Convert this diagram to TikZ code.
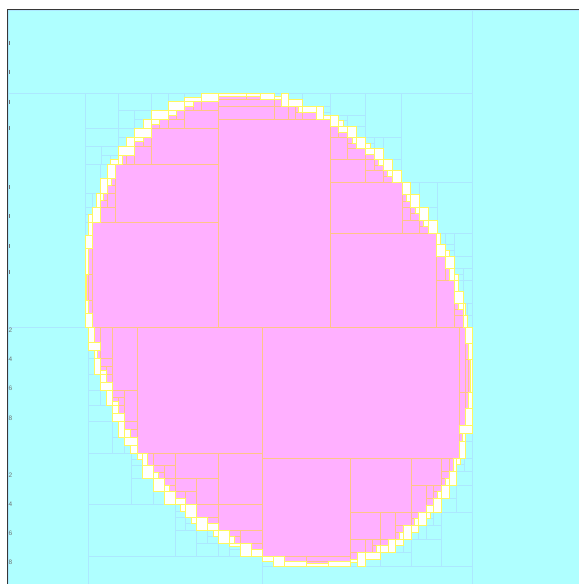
\documentclass[tikz,border=0pt]{standalone}
\usepackage{fontspec}
\setsansfont{Liberation Sans}
\definecolor{cyanfill}{RGB}{175,255,255}
\definecolor{cyanline}{RGB}{172,232,255}
\definecolor{pinkfill}{RGB}{255,176,255}
\definecolor{orangeline}{RGB}{255,196,135}
\definecolor{yellowline}{RGB}{255,248,95}
\definecolor{framecol}{RGB}{55,55,55}
\definecolor{tickcol}{RGB}{110,110,110}
\tikzset{
  cellout/.style={fill=cyanfill,draw=cyanline,line width=0.8bp},
  cellin/.style={fill=pinkfill,draw=orangeline,line width=0.8bp},
  cellbd/.style={fill=white,draw=yellowline,line width=0.8bp},
  framestyle/.style={draw=framecol,line width=1.6bp},
  ticklab/.style={font=\sffamily\fontsize{6.5}{6.5}\selectfont,text=tickcol,inner sep=0pt,anchor=west},
  tickmark/.style={draw=tickcol,line width=0.6bp}
}
% ellipse: A dx^2 + 2B dx dy + C dy^2 < 1 (pixel coordinates, y downwards)
\def\EA{2.81e-5}
\def\EB{(-0.475e-5)}
\def\EC{1.875e-5}
\def\ECX{278.5}
\def\ECY{329.5}
\def\QTminA{150}
\def\QThardA{45}
\def\QTminS{2.6}
\def\Fv#1#2{(\EA*((#1)-\ECX)^2+2*\EB*((#1)-\ECX)*((#2)-\ECY)+\EC*((#2)-\ECY)^2)}
\def\Hm#1#2#3{\Fv{(\ECX+max((#2)-\ECX,min((#3)-\ECX,-\EB*((#1)-\ECY)/\EA)))}{#1}}
\def\Vm#1#2#3{\Fv{#1}{(\ECY+max((#2)-\ECY,min((#3)-\ECY,-\EB*((#1)-\ECX)/\EC)))}}
\def\Classify#1#2#3#4{%
  \edef\QTcls{\fpeval{(1-(min(\Hm{#2}{#1}{#3},\Hm{#4}{#1}{#3},\Vm{#1}{#2}{#4},\Vm{#3}{#2}{#4})>=1)*(1-((#1)<=\ECX)*(\ECX<=(#3))*((#2)<=\ECY)*(\ECY<=(#4))))*(2-(\Fv{#1}{#2}<1)*(\Fv{#3}{#2}<1)*(\Fv{#1}{#4}<1)*(\Fv{#3}{#4}<1))}}}
\def\Lout{}\def\Lin{}\def\Lbd{}
\def\AddOut#1#2#3#4{\xdef\Lout{\unexpanded\expandafter{\Lout}\noexpand\path[cellout] (#1,#2) rectangle (#3,#4);}}
\def\AddIn#1#2#3#4{\xdef\Lin{\unexpanded\expandafter{\Lin}\noexpand\path[cellin] (#1,#2) rectangle (#3,#4);}}
\def\AddBd#1#2#3#4{\xdef\Lbd{\unexpanded\expandafter{\Lbd}\noexpand\path[cellbd] (#1,#2) rectangle (#3,#4);}}
\def\CellK#1#2#3#4#5{%
  \ifcase#5\relax
    \AddOut{#1}{#2}{#3}{#4}\let\QTnext\relax
  \or
    \AddIn{#1}{#2}{#3}{#4}\let\QTnext\relax
  \else
    \SplitCell{#1}{#2}{#3}{#4}%
  \fi
  \QTnext}
\def\Cell#1#2#3#4{\Classify{#1}{#2}{#3}{#4}\edef\QTnext{\noexpand\CellK{#1}{#2}{#3}{#4}{\QTcls}}\QTnext}
\def\SplitCell#1#2#3#4{%
  \edef\QTw{\fpeval{(#3)-(#1)}}\edef\QTh{\fpeval{(#4)-(#2)}}%
  \edef\QTstop{\fpeval{((\QTw*\QTh<\QThardA)+(min(\QTw,\QTh)<\QTminS))>0}}%
  \ifnum\QTstop=1
    \AddBd{#1}{#2}{#3}{#4}\let\QTnext\relax
  \else
    \edef\QTmx{\fpeval{round(((#1)+(#3))/2,2)}}\edef\QTmy{\fpeval{round(((#2)+(#4))/2,2)}}%
    \Classify{#1}{#2}{\QTmx}{#4}\let\QTcA\QTcls
    \Classify{\QTmx}{#2}{#3}{#4}\let\QTcB\QTcls
    \Classify{#1}{#2}{#3}{\QTmy}\let\QTcC\QTcls
    \Classify{#1}{\QTmy}{#3}{#4}\let\QTcD\QTcls
    \edef\QTrx{\fpeval{(\QTcA<2)+(\QTcB<2)}}\edef\QTry{\fpeval{(\QTcC<2)+(\QTcD<2)}}%
    \edef\QTsoft{\fpeval{(\QTw*\QTh<\QTminA)*(max(\QTrx,\QTry)=0)}}%
    \ifnum\QTsoft=1
      \AddBd{#1}{#2}{#3}{#4}\let\QTnext\relax
    \else
      \edef\QTdirx{\fpeval{((\QTrx-\QTry)>0)+((\QTrx-\QTry)=0)*(\QTw>=\QTh)}}%
      \ifnum\QTdirx>0
        \edef\QTnext{\noexpand\CellK{#1}{#2}{\QTmx}{#4}{\QTcA}\noexpand\CellK{\QTmx}{#2}{#3}{#4}{\QTcB}}%
      \else
        \edef\QTnext{\noexpand\CellK{#1}{#2}{#3}{\QTmy}{\QTcC}\noexpand\CellK{#1}{\QTmy}{#3}{#4}{\QTcD}}%
      \fi
    \fi
  \fi}
\begin{document}
\begin{tikzpicture}[x=1bp,y=-1bp]
\useasboundingbox (0,0) rectangle (579,584);
% outer cells
\Cell{8}{10}{472}{93}
\Cell{472}{10}{579}{584}
\Cell{8}{93}{85}{327}
\Cell{8}{327}{88}{584}
\Cell{88}{556}{262}{584}
\Cell{262}{566}{472}{584}
% upper half
\Cell{85}{222}{92}{327}
\CellK{92}{222}{218}{327}{1}
\CellK{115}{164}{218}{222}{1}
\Cell{85}{164}{115}{222}
\Cell{85}{93}{218}{164}
\CellK{218}{119}{330}{327}{1}
\Cell{218}{93}{330}{119}
\CellK{330}{233}{436}{327}{1}
\Cell{436}{233}{472}{327}
\CellK{330}{182}{402}{233}{1}
\Cell{402}{182}{472}{233}
\Cell{330}{93}{472}{182}
% lower half
\Cell{88}{327}{137}{453}
\CellK{137}{327}{262}{453}{1}
\Cell{88}{453}{262}{556}
\CellK{262}{327}{459}{458}{1}
\Cell{459}{327}{472}{458}
\CellK{262}{458}{350}{556}{1}
\Cell{350}{458}{472}{566}
\Cell{262}{556}{350}{566}
\begin{scope}
\clip (0,0) rectangle (579,584);
\Lout
\Lin
\Lbd
\end{scope}
% frame
\coordinate (fa) at (7.5,584);
\coordinate (fb) at (7.5,9.5);
\coordinate (fc) at (579,9.5);
\draw[framestyle] (fa) -- (fb) -- (fc);
% clipped tick marks and labels on the left
\foreach \yy in {43,72,102,128,187,216,246,272}
  \draw[tickmark] (9.2,\yy-2) -- (9.2,\yy+2);
\foreach \yy/\dd [count=\i] in {330/2,359/4,388/6,418/8,475/2,504/4,533/6,562/8}
  \node[ticklab] (tl\i) at (8.4,\yy) {\dd};
\end{tikzpicture}
\end{document}
